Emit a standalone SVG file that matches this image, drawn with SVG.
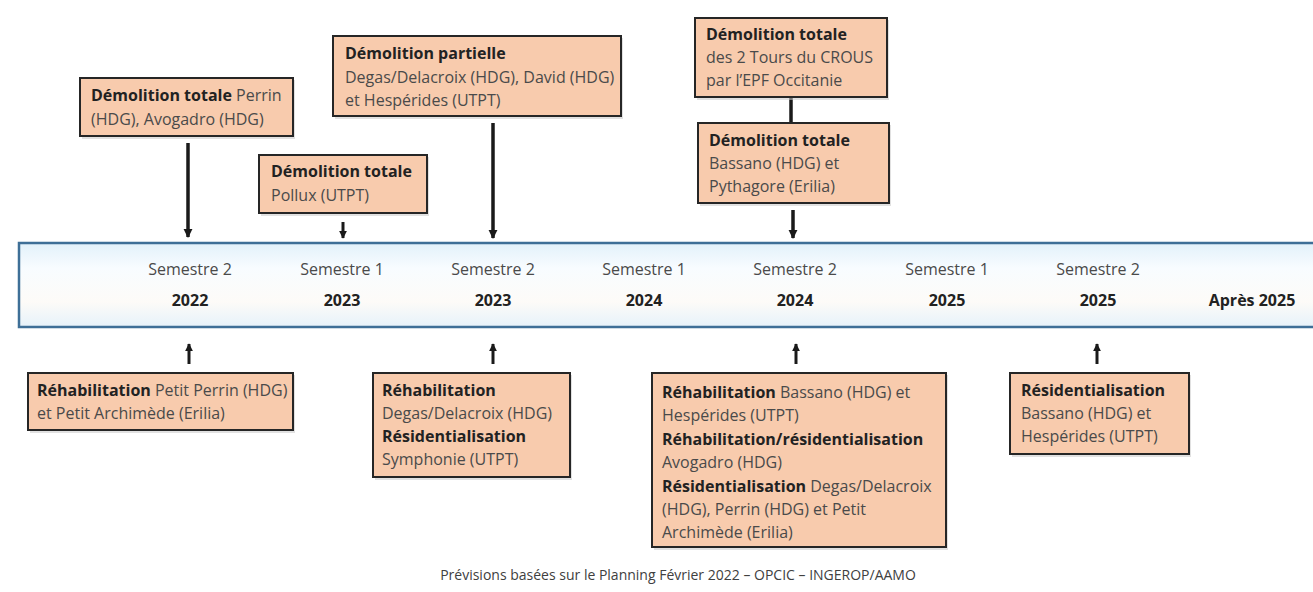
<svg xmlns="http://www.w3.org/2000/svg" width="1313" height="592" viewBox="0 0 1313 592">
<defs>
<style>
.box{fill:#f8cbad;stroke:#262626;stroke-width:2}
.sh{fill:#c9c9c9;opacity:0.55}
.t{font-family:"Open Sans","Liberation Sans",sans-serif;font-size:16px;fill:#4a4a4a}
.b{font-weight:bold;fill:#222222}
.lbl{font-family:"Open Sans","Liberation Sans",sans-serif;font-size:16px;fill:#4a4a4a;text-anchor:middle}
.yr{font-family:"Open Sans","Liberation Sans",sans-serif;font-size:16px;font-weight:bold;fill:#222222;text-anchor:middle}
.ln{stroke:#1a1a1a;stroke-width:3.5;fill:none}
.ln2{stroke:#1a1a1a;stroke-width:3;fill:none}
.foot{font-family:"Open Sans","Liberation Sans",sans-serif;font-size:14px;fill:#404040;text-anchor:middle}
</style>
<marker id="ah" viewBox="0 0 10 10" refX="9" refY="5" markerWidth="2.6" markerHeight="2.6" orient="auto">
<path d="M0,0 L10,5 L0,10 z" fill="#1a1a1a"/>
</marker>
<linearGradient id="band" x1="0" y1="0" x2="0" y2="1">
<stop offset="0" stop-color="#e2f1fa"/>
<stop offset="0.3" stop-color="#f8fcff"/>
<stop offset="0.7" stop-color="#fdfbf8"/>
<stop offset="1" stop-color="#e6f2fa"/>
</linearGradient>
</defs>
<rect width="1313" height="592" fill="#ffffff"/>

<g id="timeline">
<rect x="19" y="243" width="1300" height="84" fill="url(#band)" stroke="#3e6f97" stroke-width="2.5"/>
<text class="lbl" x="190" y="275">Semestre 2</text><text class="yr" x="190" y="306">2022</text>
<text class="lbl" x="342" y="275">Semestre 1</text><text class="yr" x="342" y="306">2023</text>
<text class="lbl" x="493" y="275">Semestre 2</text><text class="yr" x="493" y="306">2023</text>
<text class="lbl" x="644" y="275">Semestre 1</text><text class="yr" x="644" y="306">2024</text>
<text class="lbl" x="795" y="275">Semestre 2</text><text class="yr" x="795" y="306">2024</text>
<text class="lbl" x="947" y="275">Semestre 1</text><text class="yr" x="947" y="306">2025</text>
<text class="lbl" x="1098" y="275">Semestre 2</text><text class="yr" x="1098" y="306">2025</text>
<text class="yr" x="1252" y="306">Après 2025</text>
</g>

<g id="connectors">
<line class="ln" x1="188" y1="143" x2="188" y2="237" marker-end="url(#ah)"/>
<line class="ln2" x1="343" y1="222" x2="343" y2="238" marker-end="url(#ah)"/>
<line class="ln" x1="493" y1="123" x2="493" y2="238" marker-end="url(#ah)"/>
<line class="ln" x1="791" y1="97" x2="791" y2="123"/>
<line class="ln" x1="793" y1="210" x2="793" y2="238" marker-end="url(#ah)"/>
<line class="ln2" x1="189" y1="364" x2="189" y2="344" marker-end="url(#ah)"/>
<line class="ln2" x1="493" y1="364" x2="493" y2="344" marker-end="url(#ah)"/>
<line class="ln2" x1="796" y1="364" x2="796" y2="344" marker-end="url(#ah)"/>
<line class="ln2" x1="1097" y1="364" x2="1097" y2="344" marker-end="url(#ah)"/>
</g>

<g id="box-a">
<rect class="sh" x="82" y="80" width="213" height="59"/>
<rect class="box" x="80" y="78" width="213" height="58"/>
<text class="t" x="91" y="101"><tspan class="b">Démolition totale</tspan> Perrin</text>
<text class="t" x="91" y="125">(HDG), Avogadro (HDG)</text>
</g>
<g id="box-b">
<rect class="sh" x="261" y="157" width="168" height="59"/>
<rect class="box" x="259" y="155" width="168" height="58"/>
<text class="t b" x="271" y="177">Démolition totale</text>
<text class="t" x="271" y="201">Pollux (UTPT)</text>
</g>
<g id="box-c">
<rect class="sh" x="335" y="38" width="288" height="81"/>
<rect class="box" x="333" y="36" width="288" height="80"/>
<text class="t b" x="345" y="59">Démolition partielle</text>
<text class="t" x="345" y="83">Degas/Delacroix (HDG), David (HDG)</text>
<text class="t" x="345" y="106">et Hespérides (UTPT)</text>
</g>
<g id="box-d">
<rect class="sh" x="697" y="20" width="192" height="80"/>
<rect class="box" x="695" y="18" width="192" height="79"/>
<text class="t b" x="706" y="40">Démolition totale</text>
<text class="t" x="706" y="63">des 2 Tours du CROUS</text>
<text class="t" x="706" y="86">par l’EPF Occitanie</text>
</g>
<g id="box-e">
<rect class="sh" x="700" y="125" width="191" height="81"/>
<rect class="box" x="698" y="123" width="191" height="80"/>
<text class="t b" x="709" y="146">Démolition totale</text>
<text class="t" x="709" y="169">Bassano (HDG) et</text>
<text class="t" x="709" y="192">Pythagore (Erilia)</text>
</g>
<g id="box-f">
<rect class="sh" x="30" y="375" width="265" height="58"/>
<rect class="box" x="28" y="373" width="265" height="57"/>
<text class="t" x="37" y="396"><tspan class="b">Réhabilitation</tspan> Petit Perrin (HDG)</text>
<text class="t" x="37" y="419">et Petit Archimède (Erilia)</text>
</g>
<g id="box-g">
<rect class="sh" x="375" y="375" width="197" height="105"/>
<rect class="box" x="373" y="373" width="197" height="104"/>
<text class="t b" x="382" y="396">Réhabilitation</text>
<text class="t" x="382" y="419">Degas/Delacroix (HDG)</text>
<text class="t b" x="382" y="442">Résidentialisation</text>
<text class="t" x="382" y="465">Symphonie (UTPT)</text>
</g>
<g id="box-h">
<rect class="sh" x="654" y="375" width="294" height="175"/>
<rect class="box" x="652" y="373" width="294" height="174"/>
<text class="t" x="662" y="398"><tspan class="b">Réhabilitation</tspan> Bassano (HDG) et</text>
<text class="t" x="662" y="421">Hespérides (UTPT)</text>
<text class="t b" x="662" y="445">Réhabilitation/résidentialisation</text>
<text class="t" x="662" y="468">Avogadro (HDG)</text>
<text class="t" x="662" y="492"><tspan class="b">Résidentialisation</tspan> Degas/Delacroix</text>
<text class="t" x="662" y="515">(HDG), Perrin (HDG) et Petit</text>
<text class="t" x="662" y="538">Archimède (Erilia)</text>
</g>
<g id="box-i">
<rect class="sh" x="1012" y="375" width="179" height="82"/>
<rect class="box" x="1010" y="373" width="179" height="81"/>
<text class="t b" x="1021" y="396">Résidentialisation</text>
<text class="t" x="1021" y="419">Bassano (HDG) et</text>
<text class="t" x="1021" y="442">Hespérides (UTPT)</text>
</g>

<text class="foot" x="678" y="580">Prévisions basées sur le Planning Février 2022 – OPCIC – INGEROP/AAMO</text>
</svg>
